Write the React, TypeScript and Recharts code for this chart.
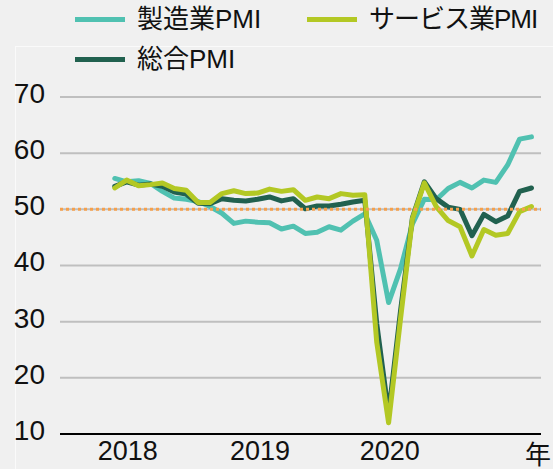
import React from "react";
import { LineChart, Line, XAxis, YAxis, CartesianGrid, ReferenceLine } from "recharts";

// monthly, May 2018 – Apr 2021
const months = [
  "2018-05", "2018-06", "2018-07", "2018-08", "2018-09", "2018-10", "2018-11", "2018-12",
  "2019-01", "2019-02", "2019-03", "2019-04", "2019-05", "2019-06", "2019-07", "2019-08",
  "2019-09", "2019-10", "2019-11", "2019-12",
  "2020-01", "2020-02", "2020-03", "2020-04", "2020-05", "2020-06", "2020-07", "2020-08",
  "2020-09", "2020-10", "2020-11", "2020-12",
  "2021-01", "2021-02", "2021-03", "2021-04",
];

const manufacturing = [
  55.5, 54.9, 55.1, 54.6, 53.2, 52.0, 51.8, 51.4,
  50.5, 49.3, 47.5, 47.9, 47.7, 47.6, 46.5, 47.0, 45.7, 45.9, 46.9, 46.3,
  47.9, 49.2, 44.5, 33.4, 39.4, 47.4, 51.8, 51.7, 53.7, 54.8, 53.8, 55.2,
  54.8, 57.9, 62.5, 62.9,
];

const services = [
  53.8, 55.2, 54.2, 54.4, 54.7, 53.7, 53.4, 51.2,
  51.2, 52.8, 53.3, 52.8, 52.9, 53.6, 53.2, 53.5, 51.6, 52.2, 51.9, 52.8,
  52.5, 52.6, 26.4, 12.0, 30.5, 48.3, 54.7, 50.5, 48.0, 46.9, 41.7, 46.4,
  45.4, 45.7, 49.6, 50.5,
];

const composite = [
  54.1, 54.9, 54.3, 54.5, 54.1, 53.1, 52.7, 51.1,
  51.0, 51.9, 51.6, 51.5, 51.8, 52.2, 51.5, 51.9, 50.1, 50.6, 50.6, 50.9,
  51.3, 51.6, 29.7, 13.6, 31.9, 48.5, 54.9, 51.9, 50.4, 50.0, 45.3, 49.1,
  47.8, 48.8, 53.2, 53.8,
];

const yTicks = [10, 20, 30, 40, 50, 60, 70];
const yearLabels = ["2018", "2019", "2020"];

const FONT = '"Liberation Sans", Arial, "Noto Sans CJK JP", sans-serif';
const MFG = "#50c1b1";
const SVC = "#b3c824";
const COMP = "#21614f";

const data = months.map((m, i) => ({
  i, month: m,
  mfg: manufacturing[i], svc: services[i], comp: composite[i],
}));

// year labels sit a little after the start of each 12-month block
const xTicks = [1.1, 12.2, 23.1];

function LegendItem({ color, label, left, spacing = 0 }: { color: string; label: string; left: number; spacing?: number }) {
  return (
    <span style={{ position: "absolute", left, top: 0, display: "inline-flex", alignItems: "center" }}>
      <span style={{ display: "inline-block", width: 50, height: 5, background: color, marginRight: 12 }} />
      <span style={{ letterSpacing: spacing }}>{label}</span>
    </span>
  );
}

const legendRow: React.CSSProperties = {
  position: "absolute", left: 0, width: 553, height: 30,
  fontSize: 26, lineHeight: "30px", color: "#111", whiteSpace: "nowrap",
};

export default function App() {
  return (
    <div style={{ position: "relative", width: 553, height: 469, background: "#f0f0f0", fontFamily: FONT, overflow: "hidden" }}>
      <style>{"body{margin:0}"}</style>
      <div style={{ position: "absolute", left: 15, top: 46, width: 560, height: 440, border: "1px solid #fafafa" }} />
      <LineChart width={553} height={469} data={data} margin={{ top: 97, right: 12, left: 0, bottom: 0 }}>
        <CartesianGrid vertical={false} stroke="#bfbfbf" strokeWidth={2} />
        <XAxis
          dataKey="i"
          type="number"
          domain={[-4.6, 35.8]}
          ticks={xTicks}
          interval={0}
          height={35}
          tickLine={false}
          tickMargin={1}
          axisLine={{ stroke: "#000", strokeWidth: 2 }}
          tick={{ fill: "#111", fontSize: 27, fontFamily: FONT }}
          tickFormatter={(v: number) => yearLabels[xTicks.indexOf(v)] ?? ""}
          label={(props: any) => {
            const vb = props.viewBox;
            return (
              <text x={vb.x + vb.width - 16} y={vb.y + 30} fontSize={26} fill="#111" fontFamily={FONT}>年</text>
            );
          }}
        />
        <YAxis
          type="number"
          domain={[10, 70]}
          ticks={yTicks}
          interval={0}
          width={60}
          axisLine={false}
          tickLine={false}
          tickMargin={9}
          tick={{ fill: "#111", fontSize: 28, fontFamily: FONT, dy: -4 }}
        />
        <Line dataKey="mfg" stroke={MFG} strokeWidth={5} dot={false} isAnimationActive={false} strokeLinejoin="round" strokeLinecap="round" />
        <Line dataKey="comp" stroke={COMP} strokeWidth={5} dot={false} isAnimationActive={false} strokeLinejoin="round" strokeLinecap="round" />
        <Line dataKey="svc" stroke={SVC} strokeWidth={5} dot={false} isAnimationActive={false} strokeLinejoin="round" strokeLinecap="round" />
        <ReferenceLine y={50} stroke="#f5a04c" strokeWidth={3} strokeDasharray="3 3" />
      </LineChart>
      <div style={{ ...legendRow, top: 4 }}>
        <LegendItem color={MFG} label="製造業PMI" left={75} />
        <LegendItem color={SVC} label="サービス業PMI" left={307} spacing={-1} />
      </div>
      <div style={{ ...legendRow, top: 44 }}>
        <LegendItem color={COMP} label="総合PMI" left={75} />
      </div>
    </div>
  );
}
